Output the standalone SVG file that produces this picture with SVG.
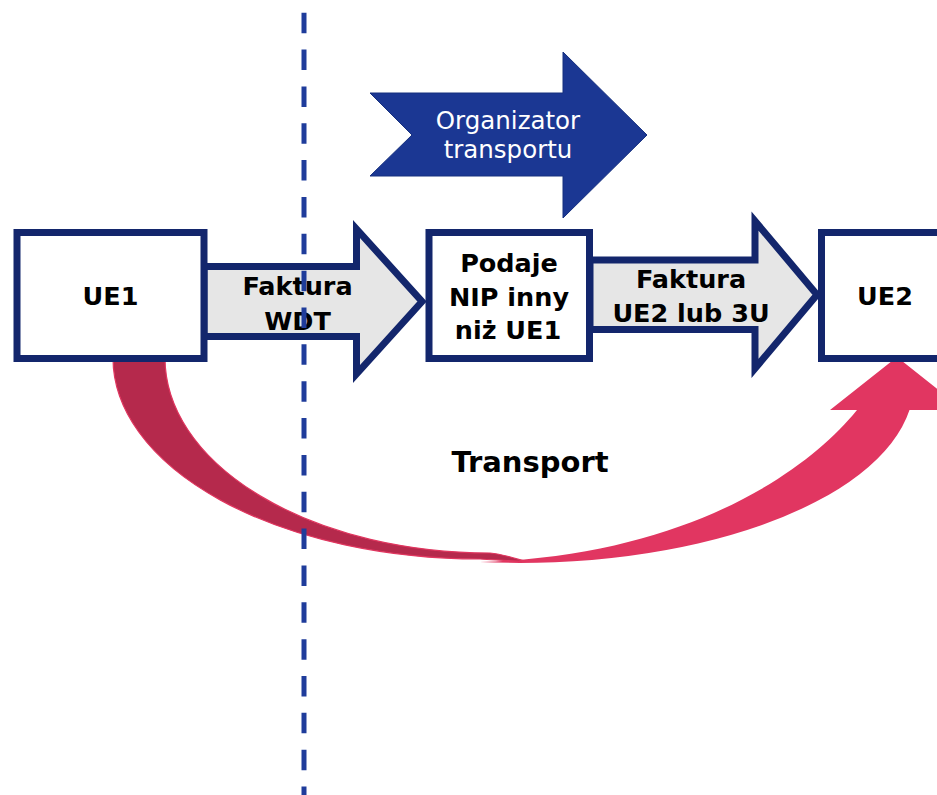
<svg xmlns="http://www.w3.org/2000/svg" width="937" height="795" viewBox="0 0 937 795">
  <defs>
    <style>
      .box { fill: #ffffff; stroke: #13266c; stroke-width: 7; }
      .flow { fill: #e6e6e6; stroke: #13266c; stroke-width: 7; stroke-linejoin: miter; stroke-miterlimit: 10; }
      .lbl { font-family: "DejaVu Sans", "Liberation Sans", sans-serif; font-weight: bold; font-size: 25.5px; fill: #000000; text-anchor: middle; }
      .org { font-family: "DejaVu Sans", "Liberation Sans", sans-serif; font-size: 24.5px; fill: #ffffff; text-anchor: middle; }
    </style>
  </defs>

  <rect width="937" height="795" fill="#ffffff"/>

  <!-- curved transport arrow from UE1 down and up to UE2 -->
  <g id="transport">
    <path d="M480,562 A394,180 0 0 0 909.5,410 L964,410 L897,357 L830,410 L857,410 C803,476.6 680,556 480,562 Z" fill="#e13661"/>
    <path d="M113,358 A367,201 0 0 0 480,559 C498,560 512,561 526,561.5 C512,557.5 502,554 490,553 A325,195 0 0 1 165,358 Z" fill="#b5294c" stroke="#e0365f" stroke-width="1.2"/>
    <text class="lbl" x="530" y="471.5" style="font-size:29px">Transport</text>
  </g>

  <!-- organizer arrow -->
  <g id="organizator">
    <polygon points="370,93 563,93 563,52 647,135 563,218 563,176 370,176 412,135" fill="#1b3793" stroke="#16307f" stroke-width="1"/>
    <text class="org" x="508" y="129">Organizator</text>
    <text class="org" x="508" y="158">transportu</text>
  </g>

  <!-- invoice flows -->
  <g id="connectors">
    <polygon class="flow" points="204,266.5 356.5,266.5 356.5,229 422,301.5 356.5,374 356.5,336.5 204,336.5"/>
    <polygon class="flow" points="590,260 755,260 755,221 817,294.75 755,368.5 755,329.5 590,329.5"/>
  </g>

  <g id="ue1">
    <rect class="box" x="17" y="232.5" width="187" height="126"/>
    <text class="lbl" x="110.5" y="305">UE1</text>
  </g>

  <g id="posrednik">
    <rect class="box" x="429" y="232.5" width="160.5" height="126"/>
    <text class="lbl" x="509" y="272">Podaje</text>
    <text class="lbl" x="509" y="306">NIP inny</text>
    <text class="lbl" x="508" y="339">niż UE1</text>
  </g>

  <g id="ue2">
    <rect class="box" x="821.5" y="232.5" width="200" height="126"/>
    <text class="lbl" x="885" y="305">UE2</text>
  </g>

  <g id="flow-labels">
    <text class="lbl" x="297.5" y="295">Faktura</text>
    <text class="lbl" x="297.5" y="330">WDT</text>
    <text class="lbl" x="691" y="288">Faktura</text>
    <text class="lbl" x="691" y="322">UE2 lub 3U</text>
  </g>

  <!-- border line -->
  <line x1="304" y1="12.7" x2="304" y2="800" stroke="#1f3c9b" stroke-width="5" stroke-dasharray="20.5 16.35"/>
</svg>
